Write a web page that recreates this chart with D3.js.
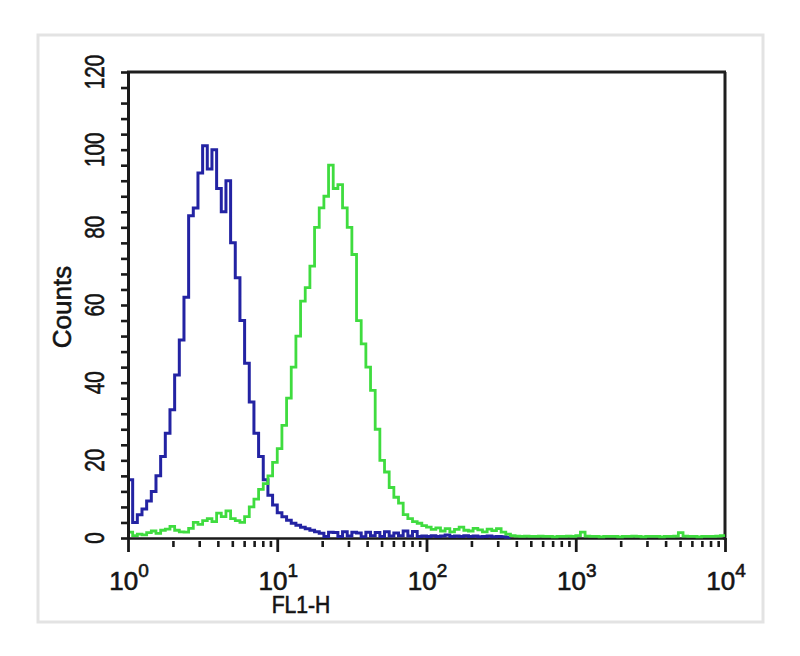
<!DOCTYPE html>
<html><head><meta charset="utf-8">
<script src="https://cdn.jsdelivr.net/npm/d3@7"></script>
<style>
body{margin:0;background:#fff}
svg{display:block}
text{font-family:"Liberation Sans",Arial,Helvetica,sans-serif;fill:#141414;stroke:#141414;stroke-width:0.6px}
</style>
</head><body>
<svg id="chart" width="800" height="656"></svg>
<script>
// Histogram counts per bin; bins are 1/32 decade wide starting at 10^0
const binsPerDecade = 32;
const blueCounts = [
  15, 4, 6, 7.5, 9.5, 12, 16, 21, 27, 33, 42, 51, 62, 83,
  85, 94, 101, 95, 100, 90, 84, 92,
  76, 67, 56, 45, 35, 27, 21, 15, 11, 8.5, 6.5, 5.5, 4.6, 3.8, 3.3, 2.8, 2.4, 2, 1.6,
  1.2, 0.4, 1.5, 1.4, 0.4, 1.6, 0.5, 1.5, 1.3, 0.3, 1.5, 0.6, 1.4, 0.4, 1.6, 0.5, 1.3, 0.6, 1.8, 0.5, 1.7, 0.4,
  0.5, 0.4, 0.6, 0.4, 0.5, 0.8, 0.4, 0.5, 0.4, 0.6, 0.4, 0.5, 0.3, 0.4, 0.5, 0.3, 0.4, 0.3, 0.2
];
const greenCounts = [
  1.5, 0.6, 1, 0.8, 1.4, 1.8, 1.2, 2, 2.3, 3, 2, 1.6, 1.5, 2.5, 4, 3.5, 4.5, 5, 4.2, 6.4, 5.5, 7, 5, 4.5, 4,
  5.5, 8, 10, 12.5, 14, 16, 19.5, 23, 29, 36, 44, 52, 61, 64.5, 70, 80, 85, 88, 96, 90, 91, 85, 80, 73,
  56, 50, 44, 38, 28, 20, 17, 13, 10.5, 9, 6, 5, 4.2, 3.8, 3.2, 2.8,
  2.2, 2.6, 1.8, 2.4, 1.6, 2.2, 2.8, 2.0, 1.8, 2.5, 2.1, 1.6, 2.3, 1.9, 2.4, 1.5, 1.0,
  0.6, 0.5, 0.4, 0.5, 0.4, 0.4, 0.5, 0.4, 0.4, 0.3, 0.4, 0.4, 0.5, 0.4, 0.6, 1.5, 0.5, 0.4, 0.4, 0.3,
  0.4, 0.4, 0.4, 0.3, 0.4, 0.4, 0.5, 0.4, 0.3, 0.4, 0.4, 0.4, 0.3, 0.4, 0.4, 0.5, 1.4, 0.5, 0.4, 0.4,
  0.3, 0.4, 0.4, 0.4, 0.5, 0.6
];
const yTickLabels = [0, 20, 40, 60, 80, 100, 120];
const yMinorStep = 4;
const xDecades = [0, 1, 2, 3, 4];
const xLabel = "FL1-H";
const yLabel = "Counts";

const svg = d3.select("#chart");
const x = d3.scaleLog().domain([1, 1e4]).range([128, 725]);
const y = d3.scaleLinear().domain([0, 120]).range([538, 72]);

// outer light frame
svg.append("rect").attr("x", 38).attr("y", 35).attr("width", 725).attr("height", 587)
  .attr("fill", "none").attr("stroke", "#e3e3e3").attr("stroke-width", 3);

// bottom axis with major and minor ticks
const minorVals = [];
for (let d = 0; d < 4; d++) for (let m = 2; m <= 9; m++) minorVals.push(m * Math.pow(10, d));
const gMinor = svg.append("g").attr("transform", "translate(0,541)")
  .call(d3.axisBottom(x).tickValues(minorVals).tickSize(6).tickSizeOuter(0).tickFormat(""));
gMinor.select(".domain").remove();
gMinor.selectAll("line").attr("stroke", "#1a1a1a").attr("stroke-width", 2.6);

const gMajor = svg.append("g").attr("transform", "translate(0,538)")
  .call(d3.axisBottom(x).tickValues(xDecades.map(d => Math.pow(10, d))).tickSize(14).tickSizeOuter(0).tickFormat(""));
gMajor.select(".domain").attr("stroke", "#1a1a1a").attr("stroke-width", 2.5);
gMajor.selectAll("line").attr("stroke", "#1a1a1a").attr("stroke-width", 2.8);

// x labels 10^n
xDecades.forEach(d => {
  const t = svg.append("text").attr("x", x(Math.pow(10, d)) + 1).attr("y", 590)
    .attr("text-anchor", "middle").attr("font-size", 26);
  t.append("tspan").text("10");
  t.append("tspan").attr("dy", -13).attr("font-size", 19).text(String(d));
});

// top and right border
svg.append("line").attr("x1", 127).attr("x2", 726).attr("y1", y(120)).attr("y2", y(120))
  .attr("stroke", "#1e1e1e").attr("stroke-width", 3);
svg.append("line").attr("x1", x(1e4)).attr("x2", x(1e4)).attr("y1", y(120)).attr("y2", 540)
  .attr("stroke", "#1e1e1e").attr("stroke-width", 3);

// histogram lines
function stepPoints(counts) {
  const pts = counts.map((c, i) => [Math.pow(10, i / binsPerDecade), c]);
  pts.push([Math.pow(10, counts.length / binsPerDecade), counts[counts.length - 1]]);
  return pts;
}
const line = d3.line().x(p => x(p[0])).y(p => y(p[1])).curve(d3.curveStepAfter);

svg.append("path").attr("d", line(stepPoints(blueCounts)))
  .attr("fill", "none").attr("stroke", "#2323a3").attr("stroke-width", 3).attr("stroke-linejoin", "miter");
svg.append("path").attr("d", line(stepPoints(greenCounts)))
  .attr("fill", "none").attr("stroke", "#3fdc3f").attr("stroke-width", 2.8).attr("stroke-linejoin", "miter");

// left axis
const gLeft = svg.append("g").attr("transform", "translate(128,0)")
  .call(d3.axisLeft(y).tickValues(d3.range(0, 121, yMinorStep)).tickSize(7).tickSizeOuter(0).tickFormat(""));
gLeft.select(".domain").attr("stroke", "#1a1a1a").attr("stroke-width", 3);
gLeft.selectAll("line").attr("stroke", "#1a1a1a").attr("stroke-width", 2.6);

// y labels rotated
yTickLabels.forEach(v => {
  svg.append("text").attr("transform", `translate(104,${y(v)}) rotate(-90) scale(0.74,1)`)
    .attr("text-anchor", "middle").attr("font-size", 28).text(v);
});

svg.append("text").attr("transform", "translate(71,307) rotate(-90)")
  .attr("text-anchor", "middle").attr("font-size", 26).text(yLabel);

svg.append("text").attr("transform", "translate(301,613) scale(0.88,1)")
  .attr("text-anchor", "middle").attr("font-size", 24).text(xLabel);
</script>
</body></html>
